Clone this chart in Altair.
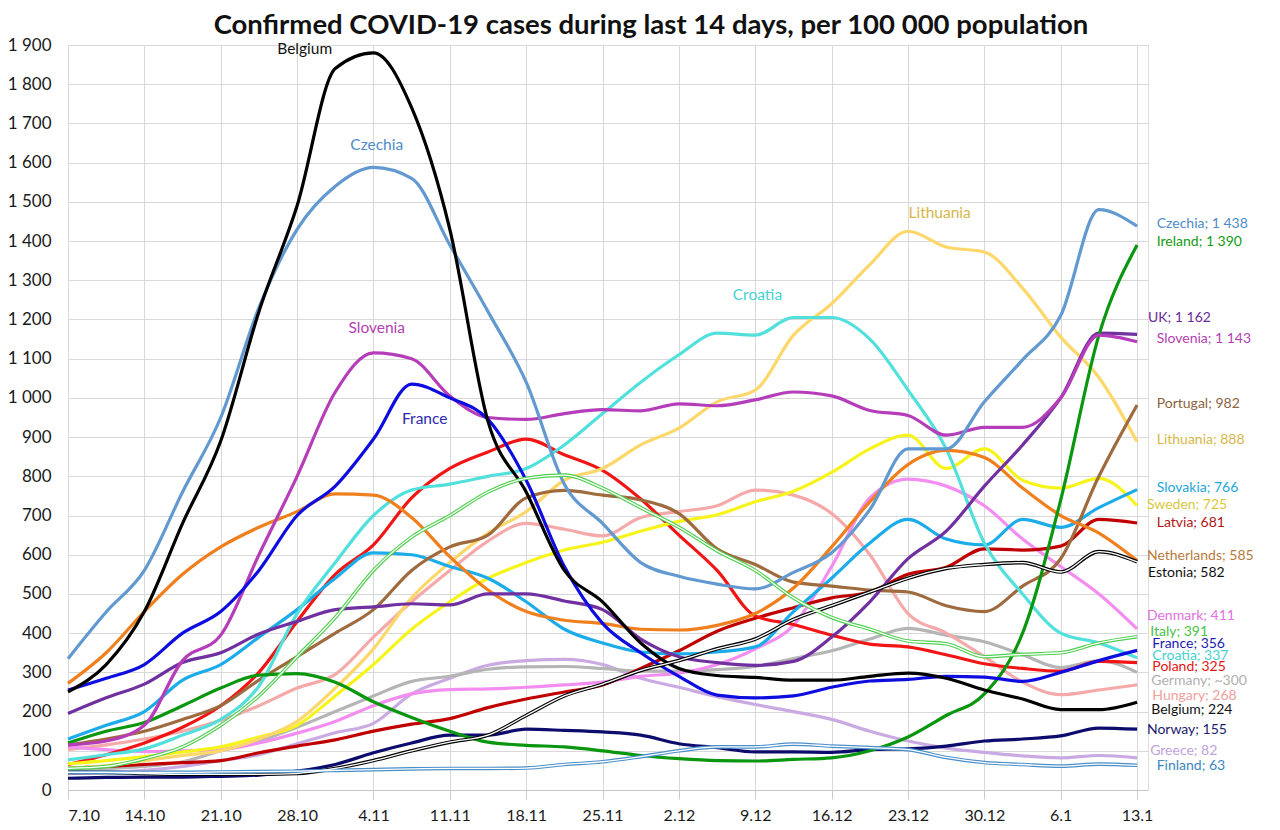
import altair as alt
import pandas as pd

# days since 7 Oct (half-week steps)
days = [0, 3.5, 7, 10.5, 14, 17.5, 21, 24.5, 28, 31.5, 35, 38.5, 42, 45.5, 49,
        52.5, 56, 59.5, 63, 66.5, 70, 73.5, 77, 80.5, 84, 87.5, 91, 94.5, 98]

tick_days = [0, 7, 14, 21, 28, 35, 42, 49, 56, 63, 70, 77, 84, 91, 98]
tick_labels = ['7.10', '14.10', '21.10', '28.10', '4.11', '11.11', '18.11', '25.11',
               '2.12', '9.12', '16.12', '23.12', '30.12', '6.1', '13.1']

belgium = [250, 320, 455, 680, 890, 1220, 1490, 1840, 1880, 1740, 1430, 940, 760, 560, 480,
           375, 310, 292, 287, 280, 280, 290, 298, 285, 255, 232, 205, 205, 224]
czechia = [335, 454, 560, 760, 950, 1230, 1430, 1540, 1588, 1560, 1390, 1220, 1040, 780, 680,
           580, 545, 525, 513, 555, 605, 715, 870, 870, 990, 1097, 1210, 1480, 1438]
slovenia = [115, 125, 165, 330, 395, 600, 800, 1015, 1115, 1100, 1005, 950, 945, 960, 970,
            967, 985, 980, 995, 1015, 1005, 968, 955, 905, 925, 925, 1000, 1160, 1143]
france = [255, 285, 320, 400, 455, 560, 700, 775, 895, 1035, 1000, 945, 790, 570, 425,
          350, 290, 242, 235, 240, 262, 278, 282, 290, 288, 277, 300, 330, 356]
netherlands = [272, 350, 455, 550, 620, 670, 710, 755, 752, 695, 595, 510, 455, 433, 425,
               410, 408, 420, 450, 515, 620, 735, 830, 866, 848, 770, 700, 655, 585]
uk = [195, 235, 270, 325, 350, 398, 430, 460, 467, 475, 472, 500, 500, 482, 460,
      385, 340, 325, 318, 328, 390, 480, 590, 660, 775, 880, 1000, 1165, 1162]
lithuania = [55, 62, 75, 88, 100, 130, 175, 260, 360, 490, 580, 655, 710, 790, 820,
             880, 923, 990, 1020, 1160, 1240, 1340, 1425, 1385, 1372, 1280, 1155, 1052, 888]
croatia = [77, 90, 105, 140, 180, 265, 450, 580, 700, 765, 780, 800, 820, 880, 960,
           1040, 1110, 1165, 1160, 1205, 1205, 1150, 1020, 870, 630, 500, 400, 375, 337]
ireland = [120, 150, 172, 215, 260, 293, 297, 275, 225, 185, 150, 122, 114, 110, 100,
           88, 80, 75, 74, 78, 82, 100, 135, 190, 245, 400, 740, 1160, 1390]
portugal = [115, 130, 150, 180, 215, 280, 340, 400, 460, 560, 620, 650, 745, 764, 752,
            740, 705, 615, 575, 530, 520, 510, 505, 470, 455, 520, 590, 800, 982]
slovakia = [130, 165, 200, 280, 320, 390, 460, 540, 605, 600, 570, 540, 480, 410, 375,
            352, 347, 352, 365, 455, 540, 630, 690, 640, 625, 690, 670, 720, 766]
sweden = [67, 75, 85, 97, 110, 135, 165, 240, 320, 410, 480, 540, 580, 612, 632,
          660, 685, 702, 735, 762, 810, 870, 905, 820, 870, 790, 770, 795, 725]
latvia = [55, 60, 65, 70, 75, 95, 112, 128, 150, 168, 182, 210, 232, 250, 268,
          310, 355, 405, 438, 465, 490, 505, 550, 568, 615, 612, 622, 690, 681]
estonia = [45, 45, 42, 40, 40, 40, 42, 55, 75, 100, 122, 140, 190, 240, 270,
           305, 330, 360, 385, 435, 470, 505, 540, 565, 575, 580, 556, 608, 582]
denmark = [110, 103, 98, 100, 103, 120, 145, 175, 215, 245, 256, 258, 262, 268, 275,
           290, 298, 320, 360, 420, 570, 745, 793, 775, 725, 640, 570, 500, 411]
italy = [55, 60, 80, 110, 165, 240, 340, 440, 560, 645, 700, 760, 795, 803, 770,
         720, 670, 610, 560, 490, 440, 410, 380, 373, 340, 346, 350, 375, 391]
poland = [65, 90, 120, 160, 215, 300, 430, 550, 625, 745, 820, 862, 895, 855, 815,
          742, 650, 560, 444, 422, 395, 372, 365, 345, 322, 310, 303, 328, 325]
germany = [50, 55, 60, 72, 100, 125, 160, 200, 240, 277, 290, 308, 314, 315, 310,
           303, 303, 307, 315, 335, 355, 385, 412, 395, 378, 345, 312, 330, 300]
hungary = [103, 115, 130, 150, 178, 215, 260, 295, 390, 480, 560, 635, 680, 665, 648,
           695, 710, 725, 765, 752, 705, 600, 450, 400, 340, 275, 243, 255, 268]
norway = [30, 32, 33, 33, 35, 38, 48, 65, 95, 120, 140, 140, 155, 152, 148,
          140, 118, 108, 97, 97, 96, 103, 105, 112, 125, 130, 138, 158, 155]
greece = [42, 45, 50, 60, 75, 90, 118, 146, 170, 245, 285, 318, 330, 333, 320,
          285, 262, 238, 218, 200, 180, 150, 125, 107, 96, 87, 82, 88, 82]
finland = [45, 45, 45, 45, 46, 47, 48, 50, 52, 54, 55, 55, 56, 65, 72,
           85, 100, 110, 110, 117, 112, 108, 103, 83, 70, 65, 61, 66, 63]

countries = ['Greece', 'Germany', 'Hungary', 'Denmark', 'Norway', 'Latvia', 'Poland',
             'Sweden', 'Lithuania', 'Slovakia', 'Portugal', 'Croatia', 'Netherlands', 'UK',
             'Ireland', 'Slovenia', 'France', 'Czechia', 'Belgium', 'Estonia', 'Italy', 'Finland']
series = {'Belgium': belgium, 'Czechia': czechia, 'Slovenia': slovenia, 'France': france,
          'Netherlands': netherlands, 'UK': uk, 'Lithuania': lithuania, 'Croatia': croatia,
          'Ireland': ireland, 'Portugal': portugal, 'Slovakia': slovakia, 'Sweden': sweden,
          'Latvia': latvia, 'Estonia': estonia, 'Denmark': denmark, 'Italy': italy,
          'Poland': poland, 'Germany': germany, 'Hungary': hungary, 'Norway': norway,
          'Greece': greece, 'Finland': finland}
line_colors = {'Belgium': '#000000', 'Czechia': '#6199d0', 'Slovenia': '#b63db9',
               'France': '#0d0de0', 'Netherlands': '#f07f1e', 'UK': '#7030a0',
               'Lithuania': '#fdd76a', 'Croatia': '#52e0dc', 'Ireland': '#0a960f',
               'Portugal': '#9e6a3e', 'Slovakia': '#1cacea', 'Sweden': '#f6f41a',
               'Latvia': '#c00000', 'Estonia': '#000000', 'Denmark': '#f38ef0',
               'Italy': '#4fcf4f', 'Poland': '#f21515', 'Germany': '#b5b5b5',
               'Hungary': '#f5a9a9', 'Norway': '#0c0c6c', 'Greece': '#c9aae2',
               'Finland': '#4a8ec8'}
hollow = ['Estonia', 'Italy', 'Finland']

# end labels
end_texts = ['Czechia; 1 438', 'Ireland; 1 390', 'UK; 1 162', 'Slovenia; 1 143',
             'Portugal; 982', 'Lithuania; 888', 'Slovakia; 766', 'Sweden; 725',
             'Latvia; 681', 'Netherlands; 585', 'Estonia; 582', 'Denmark; 411',
             'Italy; 391', 'France; 356', 'Croatia; 337', 'Poland; 325', 'Germany; ~300',
             'Hungary; 268', 'Belgium; 224', 'Norway; 155', 'Greece; 82', 'Finland; 63']
end_label_x = [99.8, 99.8, 99.0, 99.8, 99.8, 99.8, 99.8, 98.9, 99.8, 98.9, 99.0, 98.9,
               99.2, 99.4, 99.4, 99.4, 99.3, 99.4, 99.3, 98.9, 99.2, 99.8]
end_label_y = [1444, 1397, 1203, 1149, 985, 892, 769, 726, 682, 597, 554, 444,
               403, 372, 341, 313, 277, 241, 205, 154, 100, 62]
end_colors = ['#4f8bc6', '#139a13', '#6a2c9a', '#b23fb2', '#8a6442', '#d6b64a', '#22a8dc',
              '#d9c83c', '#b01515', '#b97a3c', '#111111', '#e072e0', '#47c447', '#1c1cb0',
              '#45d2d2', '#e31414', '#b0b0b0', '#f0a0a0', '#111111', '#1c1c6e', '#c2a2de',
              '#3a88c0']

# names written inside the plot
in_names = ['Belgium', 'Czechia', 'Slovenia', 'France', 'Croatia', 'Lithuania']
in_x = [21.7, 28.3, 28.3, 32.7, 63.2, 79.9]
in_y = [1890, 1646, 1179, 946, 1262, 1472]
in_colors = ['#111111', '#4f8bc6', '#b23fb2', '#2a2ab0', '#45d2d2', '#d6b64a']

rows = []
for c in countries:
    for d, v in zip(days, series[c]):
        rows.append({'day': d, 'value': v, 'country': c})
df = pd.DataFrame(rows)

labels = pd.DataFrame({'text': end_texts, 'x': end_label_x,
                       'y': end_label_y, 'color': end_colors})
inner = pd.DataFrame({'text': in_names, 'x': in_x, 'y': in_y, 'color': in_colors})

font = 'Lato'
x_scale = alt.Scale(domain=[0, 99], nice=False, zero=False)
y_scale = alt.Scale(domain=[0, 1900], nice=False)
label_expr = '[' + ','.join("'%s'" % t for t in tick_labels) + '][datum.value / 7]'
color_scale = alt.Scale(domain=countries, range=[line_colors[c] for c in countries])

x_axis = alt.Axis(values=tick_days, labelExpr=label_expr, title=None,
                  grid=True, gridColor='#d9d9d9', domainColor='#c8c8c8',
                  tickColor='#c8c8c8', tickSize=9, labelFontSize=16,
                  labelColor='#1a1a1a', labelFont=font, labelPadding=8,
                  labelOverlap=False)
y_axis = alt.Axis(values=list(range(0, 2000, 100)),
                  labelExpr="replace(format(datum.value, ','), ',', ' ')",
                  title=None, grid=True, gridColor='#d9d9d9', domain=False,
                  ticks=False, labelFontSize=17, labelColor='#1a1a1a',
                  labelFont=font, labelPadding=17, labelOverlap=False)

base = alt.Chart(df).encode(
    x=alt.X('day:Q', scale=x_scale, axis=x_axis),
    y=alt.Y('value:Q', scale=y_scale, axis=y_axis),
)

solid = [c for c in countries if c not in hollow]

lines = base.mark_line(strokeWidth=3.2, strokeJoin='round', interpolate='monotone').encode(
    color=alt.Color('country:N', legend=None, scale=color_scale)
).transform_filter(alt.FieldOneOfPredicate(field='country', oneOf=solid))

outer = base.mark_line(strokeWidth=3.6, interpolate='monotone').encode(
    color=alt.Color('country:N', legend=None, scale=color_scale)
).transform_filter(alt.FieldOneOfPredicate(field='country', oneOf=hollow))

inner_white = base.mark_line(strokeWidth=1.3, color='white', interpolate='monotone').encode(
    detail='country:N'
).transform_filter(alt.FieldOneOfPredicate(field='country', oneOf=hollow))

end_text = alt.Chart(labels).mark_text(align='left', baseline='middle', fontSize=14,
                                       font=font).encode(
    x=alt.X('x:Q', scale=x_scale, axis=x_axis),
    y=alt.Y('y:Q', scale=y_scale, axis=y_axis),
    text='text:N', color=alt.Color('color:N', scale=None)
)

in_text = alt.Chart(inner).mark_text(align='center', baseline='middle', fontSize=15.5,
                                     font=font).encode(
    x=alt.X('x:Q', scale=x_scale, axis=x_axis),
    y=alt.Y('y:Q', scale=y_scale, axis=y_axis),
    text='text:N', color=alt.Color('color:N', scale=None)
)

chart = alt.layer(lines, outer, inner_white, end_text, in_text).properties(
    width=1080, height=745,
    autosize=alt.AutoSizeParams(type='none'),
    padding={'left': 60, 'top': 37, 'right': 124, 'bottom': 34},
    title=alt.TitleParams('Confirmed COVID-19 cases during last 14 days, per 100 000 population',
                          fontSize=27.5, font=font, fontWeight='bold', color='#111111',
                          anchor='middle', dx=43, offset=-3)
).configure_view(stroke=None).configure_axis(
    labelOverlap=False
).configure(background='white')

chart.save('out.html', embed_options={'renderer': 'svg', 'actions': False})
